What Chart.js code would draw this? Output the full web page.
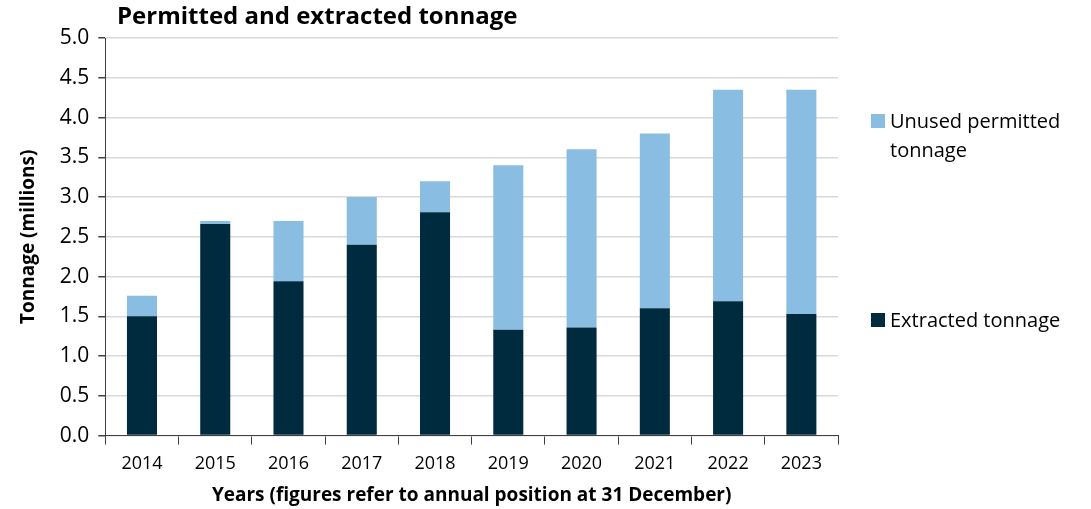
<!DOCTYPE html>
<html>
<head>
<meta charset="utf-8">
<script src="https://cdn.jsdelivr.net/npm/chart.js@4.4.1/dist/chart.umd.min.js"></script>
<style>
    body { margin: 0; background: #fff; font-family: "Open Sans", sans-serif; }
    #wrap { position: relative; width: 1091px; height: 509px; }
    #title { position: absolute; left: 117px; top: -1px; font-size: 24px; font-weight: bold; color: #000; line-height: 32px; }
    .legend { position: absolute; left: 871px; font-size: 20px; color: #000; line-height: 29px; }
    .legend span.box { position: absolute; left: 0; top: 8px; width: 14px; height: 14px; }
    .legend div { margin-left: 19px; }
</style>
</head>
<body>
<div id="wrap">
    <canvas id="tonnageChart" width="1091" height="509"></canvas>
    <div id="title">Permitted and extracted tonnage</div>
    <div class="legend" style="top:106px"><span class="box" style="background:#89bde1"></span><div>Unused permitted<br>tonnage</div></div>
    <div class="legend" style="top:305px"><span class="box" style="background:#002a3e"></span><div>Extracted tonnage</div></div>
</div>
<script>
// Dados (milhões de toneladas)
const years = ['2014', '2015', '2016', '2017', '2018', '2019', '2020', '2021', '2022', '2023'];
const extracted = [1.50, 2.66, 1.94, 2.40, 2.81, 1.33, 1.36, 1.60, 1.69, 1.53];
const unusedPermitted = [0.26, 0.04, 0.76, 0.60, 0.39, 2.07, 2.24, 2.20, 2.66, 2.82];
const yTicks = [0, 0.5, 1.0, 1.5, 2.0, 2.5, 3.0, 3.5, 4.0, 4.5, 5.0];

function createTonnageChart() {
    const ctx = document.getElementById('tonnageChart').getContext('2d');
    new Chart(ctx, {
        type: 'bar',
        data: {
            labels: years,
            datasets: [{
                label: 'Extracted tonnage',
                data: extracted,
                backgroundColor: '#002a3e',
                categoryPercentage: 1,
                barPercentage: 0.41
            }, {
                label: 'Unused permitted tonnage',
                data: unusedPermitted,
                backgroundColor: '#89bde1',
                categoryPercentage: 1,
                barPercentage: 0.41
            }]
        },
        options: {
            responsive: false,
            animation: false,
            layout: { padding: { left: 13, right: 253, top: 38, bottom: 2 } },
            plugins: {
                legend: { display: false },
                title: { display: false },
                tooltip: { enabled: false }
            },
            scales: {
                x: {
                    stacked: true,
                    grid: { drawOnChartArea: false, drawTicks: true, tickLength: 9, tickColor: '#404040' },
                    border: { color: '#404040', width: 1 },
                    ticks: { color: '#000', font: { family: 'Open Sans', size: 18 }, padding: 8 },
                    title: { display: true, text: 'Years (figures refer to annual position at 31 December)', color: '#000', font: { family: 'Open Sans', size: 19, weight: 'bold' }, padding: { top: 2, bottom: 0 } }
                },
                y: {
                    stacked: true,
                    min: 0,
                    max: 5,
                    afterBuildTicks: axis => { axis.ticks = yTicks.map(v => ({ value: v })); },
                    grid: { color: '#d9d9d9', lineWidth: 1.5, tickLength: 7, tickColor: '#404040' },
                    border: { color: '#404040', width: 1 },
                    ticks: { color: '#000', font: { family: 'Open Sans', size: 21 }, padding: 9, callback: v => v.toFixed(1) },
                    title: { display: true, text: 'Tonnage (millions)', color: '#000', font: { family: 'Open Sans', size: 19, weight: 'bold' }, padding: { bottom: 11 } }
                }
            }
        }
    });
}

createTonnageChart();
</script>
</body>
</html>
